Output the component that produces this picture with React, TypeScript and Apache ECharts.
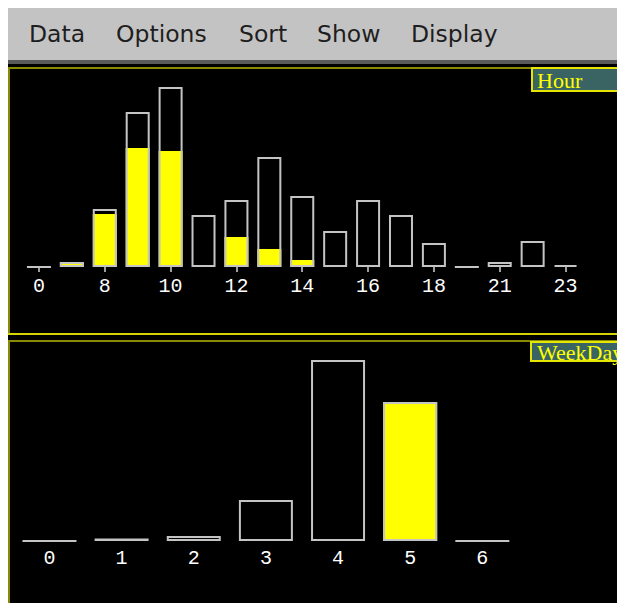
import React, { useEffect, useRef } from "react";
import * as echarts from "echarts";

const hourCategories = ["0", "7", "8", "9", "10", "11", "12", "13", "14", "15", "16", "17", "18", "20", "21", "22", "23"];
const hourTotal = [0, 5, 58, 155, 180, 52, 67, 110, 71, 36, 67, 52, 24, 0, 5, 26, 2];
const hourSelected = [0, 5, 53, 119, 116, 0, 30, 18, 7, 0, 0, 0, 0, 0, 0, 0, 0];

const dayCategories = ["0", "1", "2", "3", "4", "5", "6"];
const dayTotal = [0, 2.5, 5, 41, 181, 139, 0];
const daySelected = [0, 0, 0, 0, 0, 139, 0];

const menuItems = ["Data", "Options", "Sort", "Show", "Display"];
const menuX = [29, 116, 239, 317, 411];

const OUTLINE = "#c4c4c4";
const YELLOW = "#ffff00";
const OLIVE = "#8a8a00";

export default function App() {
  const ref = useRef<HTMLDivElement>(null);
  useEffect(() => {
    if (!ref.current) return;
    const chart = echarts.init(ref.current, undefined, { renderer: "svg" });
    const labelFont = "'Liberation Mono', 'DejaVu Sans Mono', monospace";
    const option: any = {
      animation: false,
      backgroundColor: "#ffffff",
      grid: [
        { left: 22.5, width: 559.5, top: 67, height: 200 },
        { left: 13.4, width: 505, top: 341, height: 200 },
      ],
      xAxis: [
        {
          type: "category",
          gridIndex: 0,
          data: hourCategories,
          axisLine: { show: false },
          axisTick: { show: true, interval: 1, length: 5, alignWithLabel: true, lineStyle: { color: "#d0d0d0", width: 1.5 } },
          axisLabel: { interval: 1, color: "#ffffff", fontFamily: labelFont, fontSize: 20, margin: 9 },
          splitLine: { show: false },
        },
        {
          type: "category",
          gridIndex: 1,
          data: dayCategories,
          axisLine: { show: false },
          axisTick: { show: false },
          axisLabel: { interval: 0, color: "#ffffff", fontFamily: labelFont, fontSize: 20, margin: 7 },
          splitLine: { show: false },
        },
      ],
      yAxis: [
        { type: "value", gridIndex: 0, min: 0, max: 200, show: false, splitLine: { show: false } },
        { type: "value", gridIndex: 1, min: 0, max: 200, show: false, splitLine: { show: false } },
      ],
      series: [
        {
          type: "bar",
          xAxisIndex: 0,
          yAxisIndex: 0,
          data: hourSelected,
          barWidth: 24,
          barGap: "-100%",
          z: 3,
          itemStyle: { color: YELLOW, borderWidth: 0 },
        },
        {
          type: "bar",
          xAxisIndex: 0,
          yAxisIndex: 0,
          data: hourTotal,
          barWidth: 24,
          barGap: "-100%",
          z: 4,
          itemStyle: { color: "rgba(0,0,0,0)", borderColor: OUTLINE, borderWidth: 2 },
        },
        {
          type: "bar",
          xAxisIndex: 1,
          yAxisIndex: 1,
          data: daySelected,
          barWidth: 54,
          barGap: "-100%",
          z: 3,
          itemStyle: { color: YELLOW, borderWidth: 0 },
        },
        {
          type: "bar",
          xAxisIndex: 1,
          yAxisIndex: 1,
          data: dayTotal,
          barWidth: 54,
          barGap: "-100%",
          z: 4,
          itemStyle: { color: "rgba(0,0,0,0)", borderColor: OUTLINE, borderWidth: 2 },
        },
      ],
      graphic: [
        { type: "rect", z: -10, shape: { x: 8, y: 8, width: 609, height: 52 }, style: { fill: "#c3c3c3" } },
        { type: "rect", z: -10, shape: { x: 8, y: 60, width: 609, height: 4 }, style: { fill: "#5a5a5a" } },
        { type: "rect", z: -10, shape: { x: 8, y: 64, width: 609, height: 539 }, style: { fill: "#000000" } },
        { type: "rect", z: -9, shape: { x: 9, y: 68, width: 640, height: 266 }, style: { fill: "none", stroke: OLIVE, lineWidth: 2 } },
        { type: "line", z: -8, shape: { x1: 8, y1: 334, x2: 617, y2: 334 }, style: { stroke: "#d4d400", lineWidth: 2 } },
        { type: "rect", z: -9, shape: { x: 9, y: 341, width: 640, height: 300 }, style: { fill: "none", stroke: OLIVE, lineWidth: 2 } },
        ...menuItems.map((t, i) => ({
          type: "text",
          z: 10,
          x: menuX[i],
          y: 34,
          style: {
            text: t,
            fill: "#1e1e1e",
            font: "23.5px 'DejaVu Sans', sans-serif",
            textVerticalAlign: "middle",
            verticalAlign: "middle",
          },
        })),
        { type: "rect", z: 20, shape: { x: 532, y: 68, width: 100, height: 23 }, style: { fill: "#3a6464", stroke: "#e6e600", lineWidth: 2 } },
        {
          type: "text",
          z: 21,
          x: 537,
          y: 80,
          style: { text: "Hour", fill: YELLOW, font: "22px 'Liberation Serif', serif", verticalAlign: "middle", textVerticalAlign: "middle" },
        },
        { type: "rect", z: 20, shape: { x: 531, y: 342, width: 100, height: 19 }, style: { fill: "#3a6464", stroke: "#e6e600", lineWidth: 2 } },
        {
          type: "text",
          z: 21,
          x: 537,
          y: 352,
          style: { text: "WeekDay", fill: YELLOW, font: "22px 'Liberation Serif', serif", verticalAlign: "middle", textVerticalAlign: "middle" },
        },
      ],
    };
    chart.setOption(option);
    return () => chart.dispose();
  }, []);
  return <div ref={ref} style={{ position: "fixed", left: 0, top: 0, width: 617, height: 603 }} />;
}
